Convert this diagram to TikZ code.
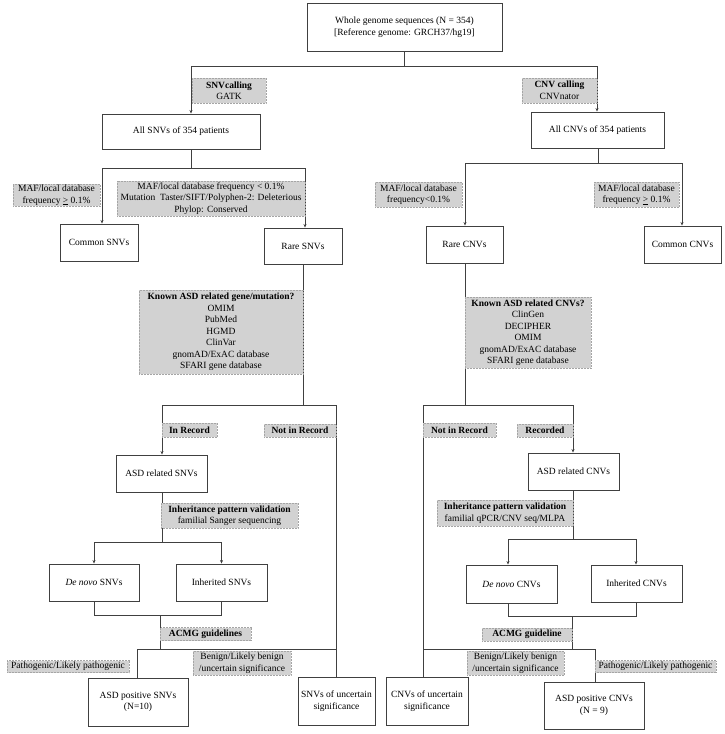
\documentclass[tikz,border=0pt]{standalone}
\usepackage{fontspec}
\setmainfont{Liberation Serif}
\usetikzlibrary{arrows.meta}
\definecolor{lblfill}{RGB}{210,210,210}
\definecolor{boxline}{RGB}{64,64,64}
\definecolor{lblline}{RGB}{165,165,165}
\tikzset{
  box/.style={draw=boxline,line width=0.9pt,fill=white,align=center,inner sep=1pt,
    font=\fontsize{9.5}{11.5}\selectfont},
  lbl/.style={draw=lblline,line width=0.5pt,densely dotted,fill=lblfill,align=center,inner sep=0.5pt,
    font=\fontsize{9.5}{11.5}\selectfont},
  conn/.style={draw=boxline,line width=0.9pt},
  arr/.style={conn,-{Stealth[length=3.5pt,width=3pt]}}
}
\begin{document}
\begin{tikzpicture}[x=1pt,y=-1pt]
\useasboundingbox[fill=white] (0,0) rectangle (725,734);
% ---------- boxes ----------
\node[box,minimum width=195,minimum height=48] (top) at (404.5,27) {Whole genome sequences (N = 354)\\[0pt][Reference genome: GRCH37/hg19]};
\node[box,minimum width=158,minimum height=35] (allsnv) at (181,131.5) {All SNVs of 354 patients};
\node[box,minimum width=78,minimum height=37] (comsnv) at (99,242.5) {Common SNVs};
\node[box,minimum width=78,minimum height=36] (raresnv) at (303,246) {Rare SNVs};
\node[box,minimum width=91,minimum height=37] (asdsnv) at (161.5,473.5) {ASD related SNVs};
\node[box,minimum width=90,minimum height=37] (dnsnv) at (94,582.5) {\textit{De novo} SNVs};
\node[box,minimum width=91,minimum height=37] (inhsnv) at (221.5,582.5) {Inherited SNVs};
\node[box,minimum width=100,minimum height=48] (possnv) at (138,702) {ASD positive SNVs\\(N=10)};
\node[box,minimum width=77,minimum height=48] (uncsnv) at (336.5,701) {SNVs of uncertain\\significance};
\node[box,minimum width=133,minimum height=36] (allcnv) at (597.5,130) {All CNVs of 354 patients};
\node[box,minimum width=77,minimum height=37] (rarecnv) at (464.5,244.5) {Rare CNVs};
\node[box,minimum width=77,minimum height=37] (comcnv) at (682.5,244.5) {Common CNVs};
\node[box,minimum width=91,minimum height=37] (asdcnv) at (573.5,471.5) {ASD related CNVs};
\node[box,minimum width=91,minimum height=38] (dncnv) at (511.5,584) {\textit{De novo} CNVs};
\node[box,minimum width=91,minimum height=37] (inhcnv) at (636.5,583.5) {Inherited CNVs};
\node[box,minimum width=82,minimum height=48] (unccnv) at (427,701) {CNVs of uncertain\\significance};
\node[box,minimum width=100,minimum height=47] (poscnv) at (594,705.5) {ASD positive CNVs\\(N = 9)};
% ---------- junction coordinates ----------
\coordinate (t0) at (404.5,66);
\coordinate (tL) at (191,66);
\coordinate (tR) at (597,66);
\coordinate (s1) at (191,168);
\coordinate (s1L) at (102,168);
\coordinate (s1R) at (305,168);
\coordinate (s2) at (303,405);
\coordinate (s2L) at (162,405);
\coordinate (s2R) at (336,405);
\coordinate (s3) at (162,542);
\coordinate (s3L) at (94,542);
\coordinate (s3R) at (221.5,542);
\coordinate (s4L) at (94,615);
\coordinate (s4R) at (221.5,615);
\coordinate (s4) at (160,615);
\coordinate (s5) at (160,649);
\coordinate (s5L) at (137,649);
\coordinate (s5R) at (336,649);
\coordinate (c1) at (598,163);
\coordinate (c1L) at (465,163);
\coordinate (c1R) at (682,163);
\coordinate (c2) at (465,405);
\coordinate (c2L) at (423,405);
\coordinate (c2R) at (573,405);
\coordinate (c3) at (573,539);
\coordinate (c3L) at (508,539);
\coordinate (c3R) at (636,539);
\coordinate (c4L) at (508,616);
\coordinate (c4R) at (636,616);
\coordinate (c4) at (572,616);
\coordinate (c5) at (572,649);
\coordinate (c5L) at (423,649);
\coordinate (c5R) at (595,649);
% ---------- connectors ----------
\draw[conn] (top.south) -- (t0);
\draw[conn] (tL) -- (tR);
\draw[arr] (tL) -- (tL |- allsnv.north);
\draw[arr] (tR) -- (tR |- allcnv.north);
% SNV branch
\draw[conn] (s1 |- allsnv.south) -- (s1);
\draw[conn] (s1L) -- (s1R);
\draw[arr] (s1L) -- (s1L |- comsnv.north);
\draw[arr] (s1R) -- (s1R |- raresnv.north);
\draw[conn] (s2 |- raresnv.south) -- (s2);
\draw[conn] (s2L) -- (s2R);
\draw[arr] (s2L) -- (s2L |- asdsnv.north);
\draw[conn] (s2R) -- (s2R |- uncsnv.north);
\draw[conn] (s3 |- asdsnv.south) -- (s3);
\draw[conn] (s3L) -- (s3R);
\draw[arr] (s3L) -- (s3L |- dnsnv.north);
\draw[arr] (s3R) -- (s3R |- inhsnv.north);
\draw[conn] (s4L |- dnsnv.south) -- (s4L) -- (s4R) -- (s4R |- inhsnv.south);
\draw[conn] (s4) -- (s5);
\draw[conn] (s5L) -- (s5R);
\draw[conn] (s5L) -- (s5L |- possnv.north);
% CNV branch
\draw[conn] (c1 |- allcnv.south) -- (c1);
\draw[conn] (c1L) -- (c1R);
\draw[arr] (c1L) -- (c1L |- rarecnv.north);
\draw[arr] (c1R) -- (c1R |- comcnv.north);
\draw[conn] (c2 |- rarecnv.south) -- (c2);
\draw[conn] (c2L) -- (c2R);
\draw[arr] (c2R) -- (c2R |- asdcnv.north);
\draw[conn] (c2L) -- (c2L |- unccnv.north);
\draw[conn] (c3 |- asdcnv.south) -- (c3);
\draw[conn] (c3L) -- (c3R);
\draw[arr] (c3L) -- (c3L |- dncnv.north);
\draw[arr] (c3R) -- (c3R |- inhcnv.north);
\draw[conn] (c4L |- dncnv.south) -- (c4L) -- (c4R) -- (c4R |- inhcnv.south);
\draw[conn] (c4) -- (c5);
\draw[conn] (c5L) -- (c5R);
\draw[conn] (c5R) -- (c5R |- poscnv.north);
% ---------- grey labels ----------
\node[lbl,minimum width=74,minimum height=25] (snvcall) at (229,90.5) {\textbf{SNVcalling}\\GATK};
\node[lbl,minimum width=87,minimum height=22] (mafsnvhi) at (56.5,195) {MAF/local database\\frequency \underline{>} 0.1\%};
\node[lbl,minimum width=188,minimum height=35] (mafsnvlo) at (211,198.5) {MAF/local database frequency < 0.1\%\\Mutation~ Taster/SIFT/Polyphen-2: Deleterious\\Phylop: Conserved};
\node[lbl,minimum width=164,minimum height=84] (knownsnv) at (221,332) {\textbf{Known ASD related gene/mutation?}\\OMIM\\PubMed\\HGMD\\ClinVar\\gnomAD/ExAC database\\SFARI gene database};
\node[lbl,minimum width=55,minimum height=14] (inrec) at (189.5,430) {\textbf{In Record}};
\node[lbl,minimum width=72,minimum height=13] (notrecsnv) at (300,430.5) {\textbf{Not in Record}};
\node[lbl,minimum width=137,minimum height=25] (inhvalsnv) at (229.5,515.5) {\textbf{Inheritance pattern validation}\\familial Sanger sequencing};
\node[lbl,minimum width=91,minimum height=13] (acmgsnv) at (205.5,634) {\textbf{ACMG guidelines}};
\node[lbl,minimum width=122,minimum height=12] (pathsnv) at (68,666.5) {Pathogenic/Likely pathogenic};
\node[lbl,minimum width=98,minimum height=24] (bensnv) at (242,663) {Benign/Likely benign\\/uncertain significance};
\node[lbl,minimum width=75,minimum height=25] (cnvcall) at (559.5,90.5) {\textbf{CNV calling}\\CNVnator};
\node[lbl,minimum width=87,minimum height=25] (mafcnvlo) at (418.5,194.5) {MAF/local database\\frequency<0.1\%};
\node[lbl,minimum width=85,minimum height=25] (mafcnvhi) at (636.5,194.5) {MAF/local database\\frequency \underline{>} 0.1\%};
\node[lbl,minimum width=126,minimum height=71] (knowncnv) at (528,332.5) {\textbf{Known ASD related CNVs?}\\ClinGen\\DECIPHER\\OMIM\\gnomAD/ExAC database\\SFARI gene database};
\node[lbl,minimum width=73,minimum height=14] (notreccnv) at (459.5,430) {\textbf{Not in Record}};
\node[lbl,minimum width=56,minimum height=13] (recd) at (545,430.5) {\textbf{Recorded}};
\node[lbl,minimum width=136,minimum height=26] (inhvalcnv) at (505,513) {\textbf{Inheritance pattern validation}\\familial qPCR/CNV seq/MLPA};
\node[lbl,minimum width=90,minimum height=13] (acmgcnv) at (527,634.5) {\textbf{ACMG guideline}};
\node[lbl,minimum width=97,minimum height=24] (bencnv) at (515.5,663) {Benign/Likely benign\\/uncertain significance};
\node[lbl,minimum width=121,minimum height=12] (pathcnv) at (655.5,666.5) {Pathogenic/Likely pathogenic};
\end{tikzpicture}
\end{document}
